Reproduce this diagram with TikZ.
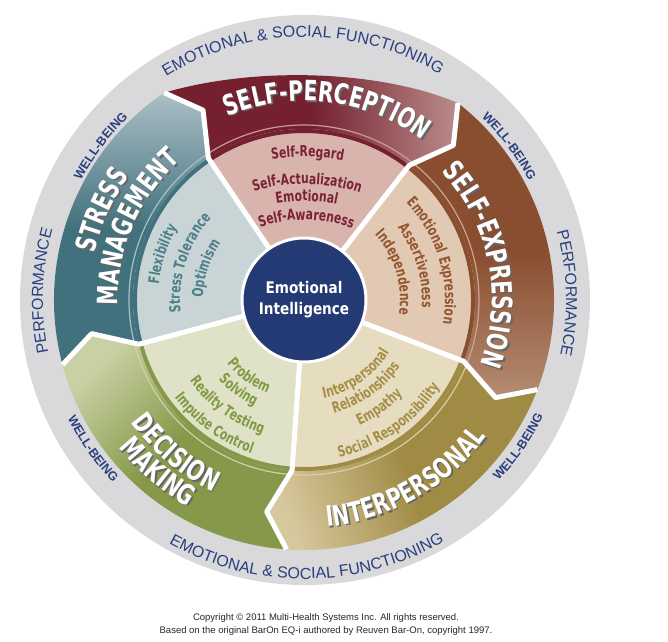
\documentclass[tikz,border=0pt]{standalone}
\usepackage{fontspec}
\setmainfont{Liberation Sans}
\newfontfamily\bandfont{DejaVu Sans}[FakeStretch=0.72]
\newfontfamily\mittefont{DejaVu Sans}[FakeStretch=0.85]
\usetikzlibrary{decorations.text}

% Farben
\definecolor{ring}{HTML}{D9D9DB}
\definecolor{navy}{HTML}{243A74}
\definecolor{schrift}{HTML}{2A3F7E}
\definecolor{spdunkel}{HTML}{74202F}
\definecolor{sphell}{HTML}{BA8C89}
\definecolor{spinnen}{HTML}{D8B4AC}
\definecolor{spschrift}{HTML}{7B2236}
\definecolor{spstreifen}{HTML}{C99B98}
\definecolor{sedunkel}{HTML}{894D2F}
\definecolor{sehell}{HTML}{B58C72}
\definecolor{seinnen}{HTML}{E2C9B3}
\definecolor{seschrift}{HTML}{93562F}
\definecolor{sestreifen}{HTML}{CDA58E}
\definecolor{ipdunkel}{HTML}{A08B45}
\definecolor{iphell}{HTML}{D6C79C}
\definecolor{ipinnen}{HTML}{E6DDC1}
\definecolor{ipschrift}{HTML}{A58F47}
\definecolor{ipstreifen}{HTML}{D9CEA3}
\definecolor{dmdunkel}{HTML}{86994A}
\definecolor{dmhell}{HTML}{C9D0A3}
\definecolor{dminnen}{HTML}{DFE2C6}
\definecolor{dmschrift}{HTML}{7F9A42}
\definecolor{dmstreifen}{HTML}{CBD3A6}
\definecolor{smdunkel}{HTML}{41717C}
\definecolor{smhell}{HTML}{ABBFC6}
\definecolor{sminnen}{HTML}{C9D4D7}
\definecolor{smschrift}{HTML}{4E7E88}
\definecolor{smstreifen}{HTML}{A9C1C6}

% Schriften
\newcommand{\bandschrift}{\bandfont\bfseries\fontsize{28}{30}\selectfont}
\newcommand{\skalenschrift}{\bandfont\bfseries\fontsize{15}{17}\selectfont}
\newcommand{\ringschrift}{\fontsize{16}{18}\selectfont}
\newcommand{\wbschrift}{\bfseries\fontsize{12.5}{14}\selectfont}

% Text auf Bogen: Mittelpunkt, Radius, Start, Ende, Format, Text
\newcommand{\bogentext}[6]{%
	\path[decorate, decoration={text along path, text align=center,
		text={|#5|#6}}]
		([shift={(#1)}]#3:#2) arc[start angle=#3, end angle=#4, radius=#2];%
}
% weisse Bandbeschriftung mit Schatten
\newcommand{\bandtext}[4]{%
	\bogentext{1.5,-1.5}{#1}{#2}{#3}{\bandschrift\color{black!60}}{#4}%
	\bogentext{0,0}{#1}{#2}{#3}{\bandschrift\color{white}}{#4}%
}

\begin{document}
\begin{tikzpicture}[x=1pt, y=1pt]
	\useasboundingbox (-304,-341) rectangle (364,300);
	% Grauer Ring
	\fill[ring] (1,0) circle[radius=285pt];

	% Self-Expression
	\fill[seinnen] (0,0) -- (-21:171pt) arc[start angle=-21, end angle=52,
	radius=171pt] -- cycle;
	\shade[top color=sehell, bottom color=sedunkel, middle color=sedunkel,
	shading angle=180] (-21:171pt) -- (-27:215pt) -- (-21:250pt)
	arc[start angle=-21, end angle=52, radius=250pt] -- (46:215pt) --
	(52:171pt) arc[start angle=52, end angle=-21, radius=171pt] -- cycle;
	\draw[sedunkel, line width=4pt] (-21:169pt) arc[start angle=-21,
	end angle=52, radius=169pt];
	\draw[sestreifen, line width=1.2pt] (-21:175pt) arc[start angle=-21,
	end angle=52, radius=175pt];

	% Self-Perception
	\fill[spinnen] (0,0) -- (52:171pt) arc[start angle=52, end angle=124,
	radius=171pt] -- cycle;
	\shade[top color=sphell, bottom color=spdunkel, middle color=spdunkel,
	shading angle=-90] (52:171pt) -- (46:215pt) -- (52:250pt)
	.. controls (76,230) and (-49,234) .. (124:250pt) -- (118:215pt) --
	(124:171pt) arc[start angle=124, end angle=52, radius=171pt] -- cycle;
	\draw[spdunkel, line width=4pt] (52:169pt) arc[start angle=52,
	end angle=124, radius=169pt];
	\draw[spstreifen, line width=1.2pt] (52:175pt) arc[start angle=52,
	end angle=124, radius=175pt];

	% Stress Management
	\fill[sminnen] (0,0) -- (124:171pt) arc[start angle=124, end angle=195,
	radius=171pt] -- cycle;
	\shade[top color=smhell, bottom color=smdunkel, middle color=smdunkel]
	(124:171pt) -- (118:215pt) -- (124:250pt) arc[start angle=124,
	end angle=195, radius=250pt] -- (189:215pt) -- (195:171pt)
	arc[start angle=195, end angle=124, radius=171pt] -- cycle;
	\draw[smdunkel, line width=4pt] (124:169pt) arc[start angle=124,
	end angle=195, radius=169pt];
	\draw[smstreifen, line width=1.2pt] (124:175pt) arc[start angle=124,
	end angle=195, radius=175pt];

	% Decision Making
	\fill[dminnen] (0,0) -- (195:171pt) arc[start angle=195, end angle=266,
	radius=171pt] -- cycle;
	\shade[top color=dmhell, bottom color=dmdunkel, middle color=dmdunkel,
	shading angle=45] (195:171pt) -- (189:215pt) -- (195:250pt)
	arc[start angle=195, end angle=266, radius=250pt] -- (260:215pt) --
	(266:171pt) arc[start angle=266, end angle=195, radius=171pt] -- cycle;
	\draw[dmdunkel, line width=4pt] (195:169pt) arc[start angle=195,
	end angle=266, radius=169pt];
	\draw[dmstreifen, line width=1.2pt] (195:175pt) arc[start angle=195,
	end angle=266, radius=175pt];

	% Interpersonal
	\fill[ipinnen] (0,0) -- (266:171pt) arc[start angle=266, end angle=339,
	radius=171pt] -- cycle;
	\shade[top color=iphell, bottom color=ipdunkel, middle color=ipdunkel,
	shading angle=110] (266:171pt) -- (260:215pt) -- (266:250pt)
	arc[start angle=266, end angle=339, radius=250pt] -- (333:215pt) --
	(339:171pt) arc[start angle=339, end angle=266, radius=171pt] -- cycle;
	\draw[ipdunkel, line width=4pt] (266:169pt) arc[start angle=266,
	end angle=339, radius=169pt];
	\draw[ipstreifen, line width=1.2pt] (266:175pt) arc[start angle=266,
	end angle=339, radius=175pt];

	% Trennlinien
	\foreach \w in {-21,52,124,195,266}
		\draw[white, line width=5pt, line join=round] (\w:50pt) --
		(\w:171pt) -- (\w-6:215pt) -- (\w:250pt);

	% Mitte
	\node[circle, fill=navy, draw=white, line width=3pt, minimum size=124pt,
	inner sep=0pt, align=center, text=white,
	font=\mittefont\bfseries\fontsize{16}{21}\selectfont] (mitte) at (0,0)
	{Emotional\\Intelligence};

	% Ringbeschriftung
	\bogentext{1,0}{263pt}{170.5}{10.5}{\ringschrift\color{schrift}}{EMOTIONAL {\&} SOCIAL FUNCTIONING}
	\bogentext{1,0}{279pt}{190.4}{350.4}{\ringschrift\color{schrift}}{EMOTIONAL {\&} SOCIAL FUNCTIONING}
	\bogentext{1,0}{262pt}{238}{118}{\ringschrift\color{schrift}}{PERFORMANCE}
	\bogentext{1,0}{261pt}{61.5}{-58.5}{\ringschrift\color{schrift}}{PERFORMANCE}
	\bogentext{1,0}{254pt}{183}{103}{\wbschrift\color{schrift}}{WELL-BEING}
	\bogentext{1,0}{254pt}{77}{-3}{\wbschrift\color{schrift}}{WELL-BEING}
	\bogentext{1,0}{265pt}{175}{255}{\wbschrift\color{schrift}}{WELL-BEING}
	\bogentext{1,0}{265pt}{285.5}{365.5}{\wbschrift\color{schrift}}{WELL-BEING}

	% Bandbeschriftung
	\bandtext{199pt}{143}{23}{SELF-PERCEPTION}
	\bandtext{214pt}{216}{96}{STRESS}
	\bandtext{186pt}{216.5}{96.5}{MANAGEMENT}
	\bandtext{188pt}{71.5}{-48.5}{SELF-EXPRESSION}
	\bandtext{228pt}{239.5}{359.5}{INTERPERSONAL}
	\bandtext{212pt}{170}{290}{DECISION}
	\bandtext{237pt}{169.6}{289.6}{MAKING}

	% Skalen
	\bogentext{0,-60}{203pt}{149}{29}{\skalenschrift\color{spschrift}}{Self-Regard}
	\bogentext{0,-60}{176pt}{149}{29}{\skalenschrift\color{spschrift}}{Self-Actualization}
	\bogentext{0,-60}{159pt}{149}{29}{\skalenschrift\color{spschrift}}{Emotional}
	\bogentext{0,-60}{140pt}{149}{29}{\skalenschrift\color{spschrift}}{Self-Awareness}
	\bogentext{0,0}{146pt}{222}{102}{\skalenschrift\color{smschrift}}{Flexibility}
	\bogentext{0,0}{124pt}{222}{102}{\skalenschrift\color{smschrift}}{Stress Tolerance}
	\bogentext{0,0}{101pt}{222}{102}{\skalenschrift\color{smschrift}}{Optimism}
	\bogentext{0,0}{141pt}{77}{-43}{\skalenschrift\color{seschrift}}{Emotional Expression}
	\bogentext{0,0}{118pt}{77}{-43}{\skalenschrift\color{seschrift}}{Assertiveness}
	\bogentext{0,0}{96pt}{77}{-43}{\skalenschrift\color{seschrift}}{Independence}
	\bogentext{0,0}{100pt}{245}{365}{\skalenschrift\color{ipschrift}}{Interpersonal}
	\bogentext{0,0}{117pt}{245}{365}{\skalenschrift\color{ipschrift}}{Relationships}
	\bogentext{0,0}{137pt}{245}{365}{\skalenschrift\color{ipschrift}}{Empathy}
	\bogentext{0,0}{161pt}{245}{365}{\skalenschrift\color{ipschrift}}{Social Responsibility}
	\bogentext{0,0}{100pt}{174}{294}{\skalenschrift\color{dmschrift}}{Problem}
	\bogentext{0,0}{117pt}{174}{294}{\skalenschrift\color{dmschrift}}{Solving}
	\bogentext{0,0}{140pt}{174}{294}{\skalenschrift\color{dmschrift}}{Reality Testing}
	\bogentext{0,0}{162pt}{174}{294}{\skalenschrift\color{dmschrift}}{Impulse Control}

	% Copyright
	\node[font=\fontsize{9.5}{11}\selectfont, text=black!85] (copy1) at (22,-318)
	{Copyright © 2011 Multi-Health Systems Inc. All rights reserved.};
	\node[font=\fontsize{9.5}{11}\selectfont, text=black!85] (copy2) at (22,-331)
	{Based on the original BarOn EQ-i authored by Reuven Bar-On, copyright 1997.};
\end{tikzpicture}
\end{document}
